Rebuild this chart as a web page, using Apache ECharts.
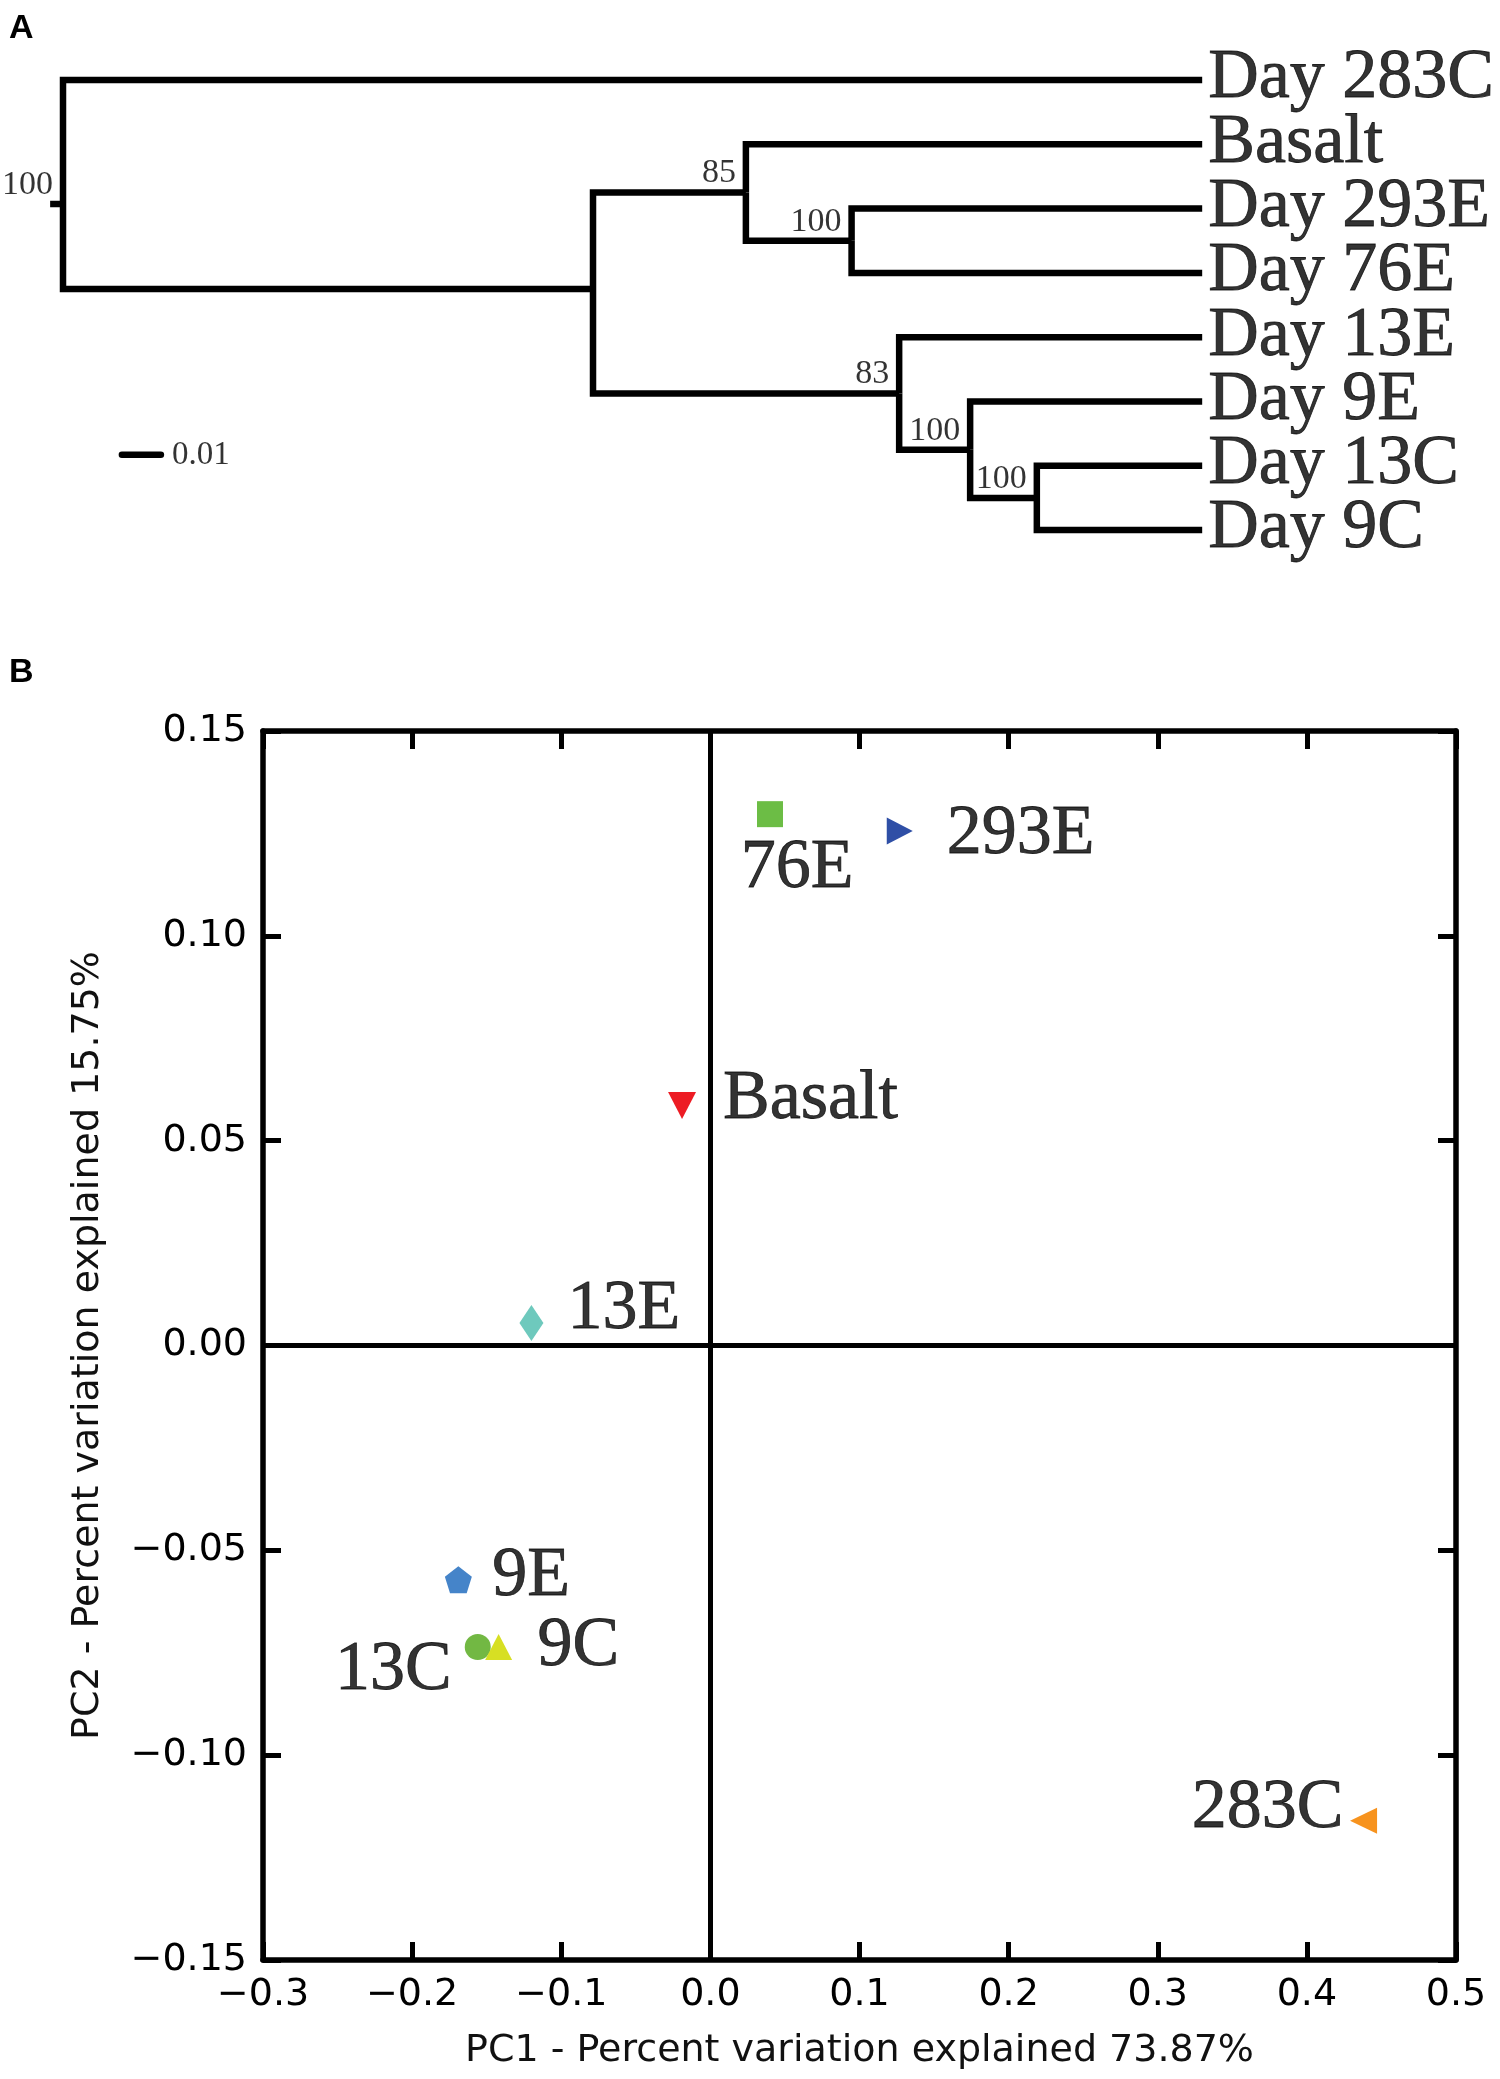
<!DOCTYPE html>
<html><head><meta charset="utf-8">
<script src="https://cdn.jsdelivr.net/npm/echarts@6/dist/echarts.min.js"></script>
<style>html,body{margin:0;padding:0;background:#fff}#c{width:1500px;height:2079px}</style>
</head><body><div id="c"></div>
<script>
// ---------- Panel A: tree (branch lengths) ----------
const treeNodes   = ['root', 'A', 'B', 'C', 'D', 'E', 'F'];
const nodeParent  = [null, 'root', 'A', 'B', 'A', 'D', 'E'];
const nodeDepth   = [0, 0.1359, 0.1751, 0.2022, 0.2144, 0.2326, 0.2497];
const nodeRow     = [1.93, 3.25, 1.75, 2.5, 4.875, 5.75, 6.5];
const nodeSupport = [100, null, 85, 100, 83, 100, 100];
const leafNames   = ['Day 283C', 'Basalt', 'Day 293E', 'Day 76E', 'Day 13E', 'Day 9E', 'Day 13C', 'Day 9C'];
const leafParent  = ['root', 'B', 'C', 'C', 'D', 'E', 'F', 'F'];
const leafDepth   = 0.2921;
const rootStub    = 0.0033;
const scaleBarLength = 0.01;
const scaleBarLabel  = '0.01';

// ---------- Panel B: PCA ----------
const sampleNames = ['76E', '293E', 'Basalt', '13E', '9E', '13C', '9C', '283C'];
const pc1 = [0.040, 0.127, -0.019, -0.120, -0.169, -0.156, -0.142, 0.438];
const pc2 = [0.1297, 0.1256, 0.0586, 0.0055, -0.0572, -0.0736, -0.0736, -0.116];
const xLabel = 'PC1 - Percent variation explained 73.87%';
const yLabel = 'PC2 - Percent variation explained 15.75%';

// marker styling
const markerSymbol = ['rect', 'triangle', 'triangle',
  'diamond', 'path://M0,-1 L0.951,-0.309 L0.588,0.809 L-0.588,0.809 L-0.951,-0.309 Z',
  'circle', 'triangle', 'triangle'];
const markerSize   = [[26, 26], [27, 26], [28, 27], [24, 36], [27, 27], [26, 26], [27, 26], [26, 27]];
const markerRotate = [0, -90, 180, 0, 0, 0, 0, 90];
const markerColor  = ['#6cbd45', '#2f4fa6', '#ed1c24', '#6ec9bd', '#4584c9', '#72b843', '#d7df23', '#f7931e'];
const labelAlign   = ['center', 'left', 'left', 'left', 'left', 'right', 'left', 'right'];
const labelOffset  = [[27, 54], [47, 4], [41, -6], [36, -13], [34, -3], [-26, 24], [39, 0], [-20, -12]];

const SERIF = '"Liberation Serif", "Times New Roman", serif';
const SANS = '"DejaVu Sans", sans-serif';
const bigText = {fontFamily: SERIF, fontSize: 70, color: '#000', textBorderColor: '#000', textBorderWidth: 0.8};

// build tree branches
const idx = n => treeNodes.indexOf(n);
const branches = [];
treeNodes.forEach((n, i) => {
  const p = nodeParent[i];
  if (p) {
    const j = idx(p);
    branches.push({coords: [[nodeDepth[j], nodeRow[j]], [nodeDepth[j], nodeRow[i]], [nodeDepth[i], nodeRow[i]]]});
  }
});
leafNames.forEach((n, i) => {
  const j = idx(leafParent[i]);
  branches.push({coords: [[nodeDepth[j], nodeRow[j]], [nodeDepth[j], i], [leafDepth, i]]});
});
branches.push({coords: [[-rootStub, nodeRow[0]], [0, nodeRow[0]]]});
const scaleBarX = 0.0151, scaleBarRow = 5.83;
const scaleBar = [{coords: [[scaleBarX, scaleBarRow], [scaleBarX + scaleBarLength, scaleBarRow]]}];

const supportData = [];
nodeSupport.forEach((s, i) => { if (s != null) supportData.push([nodeDepth[i], nodeRow[i], s]); });
const leafData = leafNames.map((n, i) => [leafDepth, i, n]);

const fmt = (v, d) => { if (Math.abs(v) < 1e-9) v = 0; return (v < 0 ? '\u2212' : '') + Math.abs(v).toFixed(d); };

const pcaAxisCommon = {
  axisLine: {show: true, onZero: false, lineStyle: {color: '#000', width: 5.5}},
  axisTick: {show: true, inside: true, length: 18, lineStyle: {color: '#000', width: 5}},
  splitLine: {show: false}
};

const chart = echarts.init(document.getElementById('c'), null, {renderer: 'canvas'});
chart.setOption({
  backgroundColor: '#fff',
  animation: false,
  graphic: [
    {type: 'text', left: 9, top: 12, style: {text: 'A', font: 'bold 34px "Liberation Sans", Arial, sans-serif', fill: '#000'}},
    {type: 'text', left: 9, top: 656, style: {text: 'B', font: 'bold 34px "Liberation Sans", Arial, sans-serif', fill: '#000'}}
  ],
  grid: [
    {left: 47.4, top: 15.7, width: 1185.6, height: 578.7, containLabel: false, outerBoundsMode: 'none'},
    {left: 263, top: 731, width: 1193, height: 1229, containLabel: false, outerBoundsMode: 'none'}
  ],
  xAxis: [
    {gridIndex: 0, type: 'value', min: -0.004, max: 0.3, show: false},
    Object.assign({gridIndex: 1, type: 'value', position: 'bottom', min: -0.3, max: 0.5, interval: 0.1,
      name: xLabel, nameLocation: 'middle', nameGap: 72,
      nameTextStyle: {fontFamily: SANS, fontSize: 38, color: '#111'},
      axisLabel: {fontFamily: SANS, fontSize: 38, color: '#000', margin: 16, formatter: v => fmt(v, 1)}}, pcaAxisCommon),
    Object.assign({gridIndex: 1, type: 'value', position: 'top', min: -0.3, max: 0.5, interval: 0.1,
      axisLabel: {show: false}}, pcaAxisCommon)
  ],
  yAxis: [
    {gridIndex: 0, type: 'value', min: -1, max: 8, inverse: true, show: false},
    Object.assign({gridIndex: 1, type: 'value', position: 'left', min: -0.15, max: 0.15, interval: 0.05,
      name: yLabel, nameLocation: 'middle', nameGap: 156,
      nameTextStyle: {fontFamily: SANS, fontSize: 38, color: '#111'},
      axisLabel: {fontFamily: SANS, fontSize: 38, color: '#000', margin: 16, formatter: v => fmt(v, 2)}}, pcaAxisCommon),
    Object.assign({gridIndex: 1, type: 'value', position: 'right', min: -0.15, max: 0.15, interval: 0.05,
      axisLabel: {show: false}}, pcaAxisCommon)
  ],
  series: [
    {type: 'lines', coordinateSystem: 'cartesian2d', xAxisIndex: 0, yAxisIndex: 0, polyline: true,
      silent: true, lineStyle: {color: '#000', width: 6.5, opacity: 1, cap: 'butt', join: 'miter'}, data: branches},
    {type: 'lines', coordinateSystem: 'cartesian2d', xAxisIndex: 0, yAxisIndex: 0, polyline: true,
      silent: true, lineStyle: {color: '#000', width: 6.5, opacity: 1, cap: 'round'}, data: scaleBar},
    {type: 'scatter', xAxisIndex: 0, yAxisIndex: 0, symbolSize: 0, silent: true,
      data: [[scaleBarX + scaleBarLength, scaleBarRow, scaleBarLabel]],
      label: {show: true, position: 'inside', align: 'left', verticalAlign: 'middle', offset: [11, 0],
        fontFamily: SERIF, fontSize: 33, color: '#000', formatter: p => p.value[2]}},
    {type: 'scatter', xAxisIndex: 0, yAxisIndex: 0, symbolSize: 0, silent: true, data: supportData,
      label: {show: true, position: 'inside', align: 'right', verticalAlign: 'middle', offset: [-10, -19],
        fontFamily: SERIF, fontSize: 34, color: '#000', formatter: p => p.value[2]}},
    {type: 'scatter', xAxisIndex: 0, yAxisIndex: 0, symbolSize: 0, silent: true, data: leafData,
      label: Object.assign({show: true, position: 'inside', align: 'left', verticalAlign: 'middle', offset: [6, -1],
        formatter: p => p.value[2]}, bigText)},
    {type: 'scatter', xAxisIndex: 1, yAxisIndex: 1, silent: true, z: 3,
      data: sampleNames.map((n, i) => ({
        value: [pc1[i], pc2[i]], symbol: markerSymbol[i], symbolSize: markerSize[i],
        symbolRotate: markerRotate[i], itemStyle: {color: markerColor[i], opacity: 1}
      })),
      markLine: {silent: true, symbol: ['none', 'none'], label: {show: false},
        lineStyle: {color: '#000', width: 5, type: 'solid'},
        data: [{xAxis: 0}, {yAxis: 0}]}
    },
    {type: 'scatter', xAxisIndex: 1, yAxisIndex: 1, symbolSize: 0, silent: true, z: 4,
      data: sampleNames.map((n, i) => ({
        value: [pc1[i], pc2[i], n],
        label: Object.assign({show: true, position: 'inside', align: labelAlign[i], verticalAlign: 'middle',
          offset: labelOffset[i], formatter: n}, bigText)
      }))
    }
  ]
});
</script>
</body></html>
